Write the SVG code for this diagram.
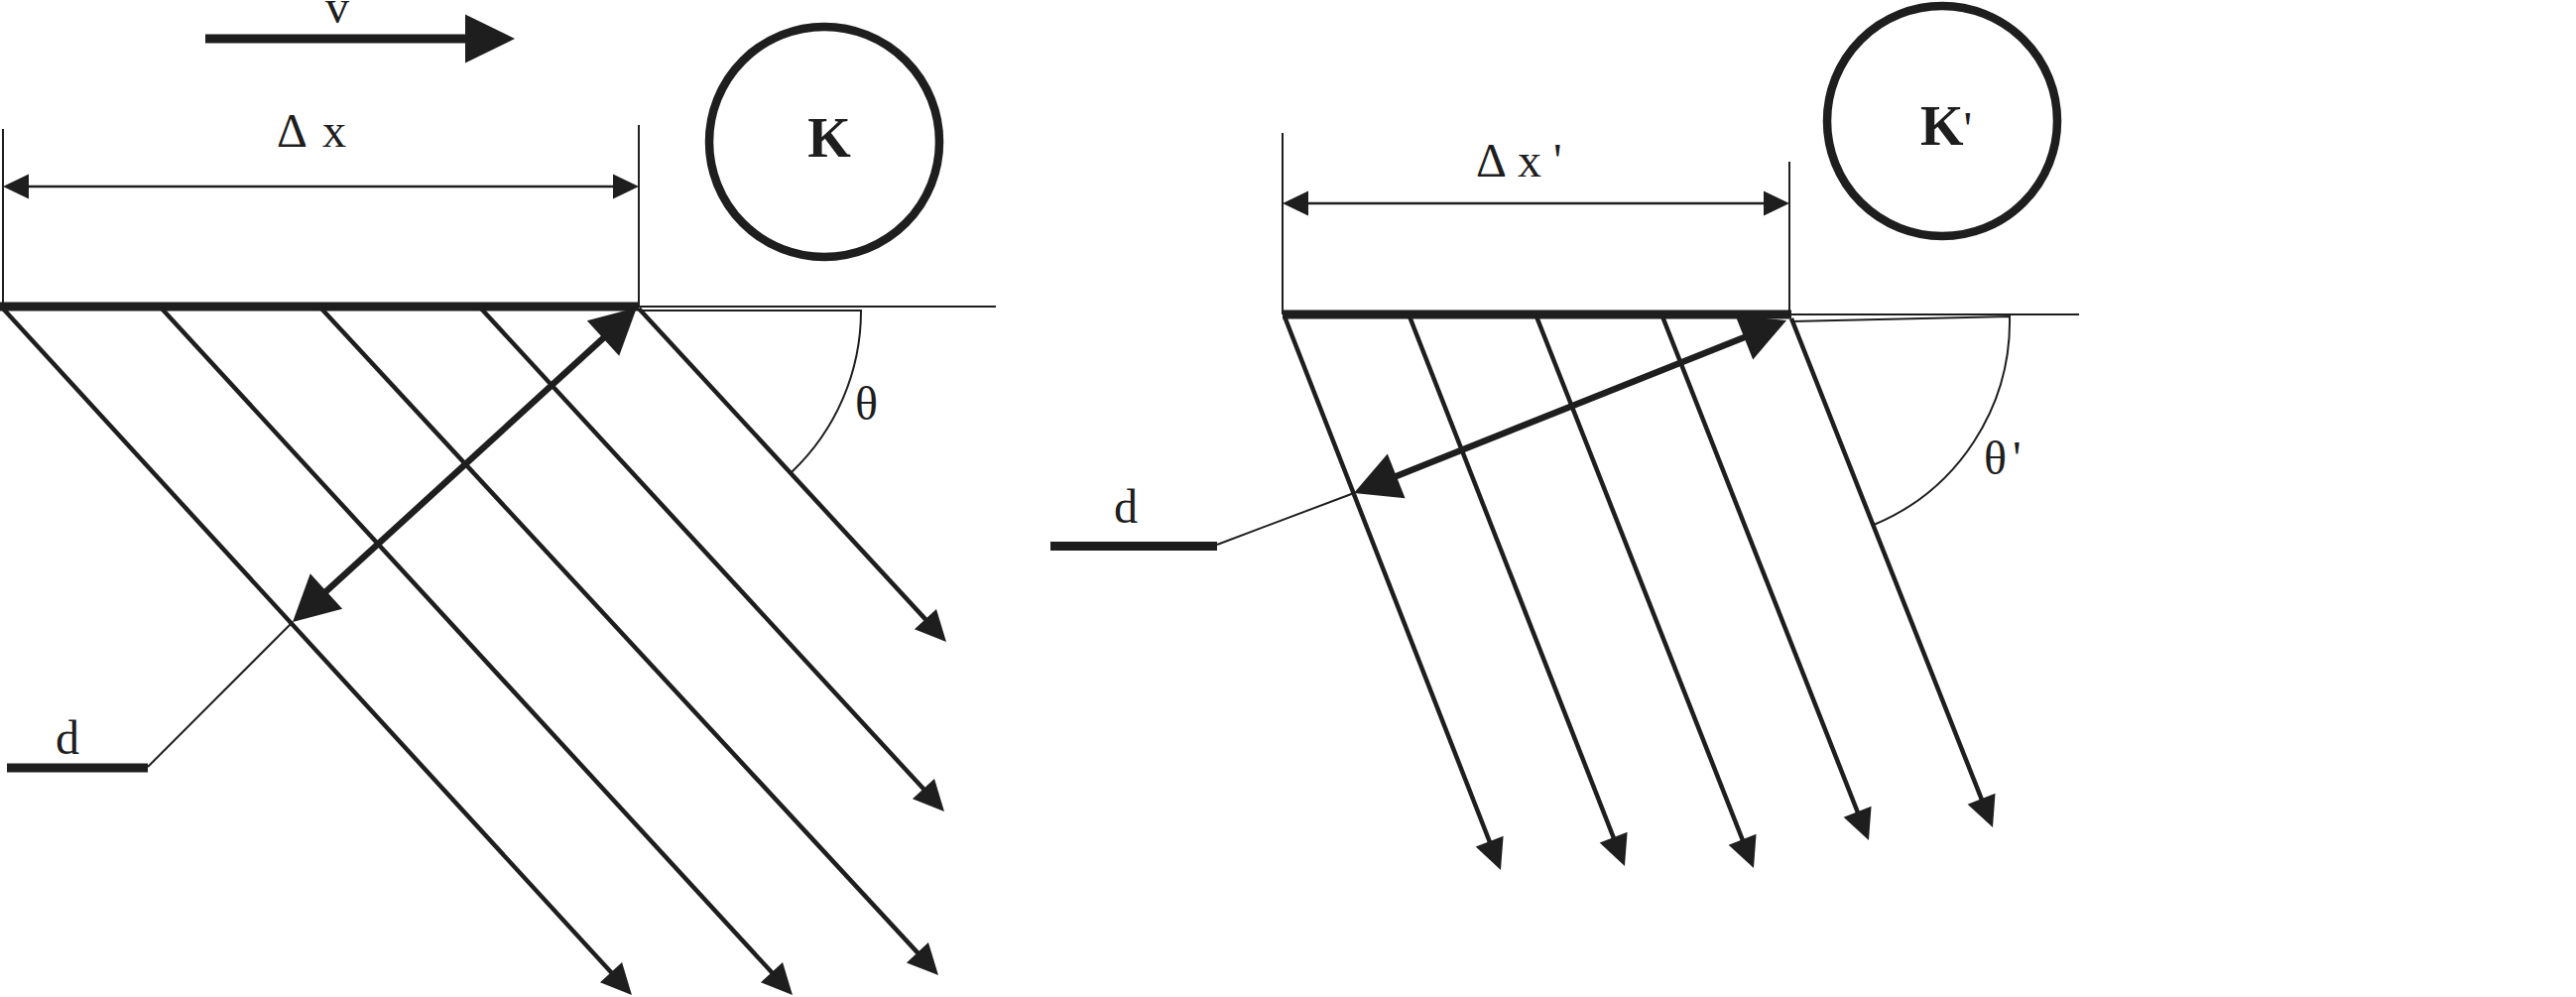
<svg xmlns="http://www.w3.org/2000/svg" width="2597" height="1005" viewBox="0 0 2597 1005">
<style>
.ln{stroke:#1e1e1e;fill:none;stroke-linecap:butt}
.thin{stroke-width:2}
.ray{stroke-width:4.5;marker-end:url(#ah)}
.bar{stroke-width:9}
.dim{stroke-width:2.6;marker-start:url(#ahdim);marker-end:url(#ahdim)}
.darr{stroke-width:6.5;marker-start:url(#ahd);marker-end:url(#ahd)}
.circ{stroke:#1e1e1e;stroke-width:8.5;fill:none}
.t{font-family:"Liberation Serif","Times New Roman",serif;fill:#1e1e1e;font-size:48px}
.b{font-weight:bold;font-size:56px}
</style>
<defs>
<marker id="ah" markerUnits="userSpaceOnUse" orient="auto" refX="21" refY="0" markerWidth="40" markerHeight="40" overflow="visible"><path d="M0,-15 L31,0 L0,15 z" fill="#1e1e1e"/></marker>
<marker id="ahd" markerUnits="userSpaceOnUse" orient="auto-start-reverse" refX="31" refY="0" markerWidth="60" markerHeight="60" overflow="visible"><path d="M0,-24 L46,0 L0,24 z" fill="#1e1e1e"/></marker>
<marker id="ahdim" markerUnits="userSpaceOnUse" orient="auto-start-reverse" refX="20" refY="0" markerWidth="30" markerHeight="30" overflow="visible"><path d="M0,-12.5 L26,0 L0,12.5 z" fill="#1e1e1e"/></marker>
<marker id="ahv" markerUnits="userSpaceOnUse" orient="auto" refX="40" refY="0" markerWidth="60" markerHeight="60" overflow="visible"><path d="M0,-24.5 L50,0 L0,24.5 z" fill="#1e1e1e"/></marker>
</defs>
<rect width="2597" height="1005" fill="#ffffff"/>

<g id="left-frame">
<line class="ln" x1="207" y1="39" x2="509" y2="39" stroke-width="9" marker-end="url(#ahv)"/>
<text class="t" x="340" y="23" text-anchor="middle">v</text>
<line class="ln thin" x1="3" y1="130" x2="3" y2="309"/>
<line class="ln thin" x1="644" y1="126" x2="644" y2="309"/>
<line class="ln dim" x1="9" y1="188" x2="638" y2="188"/>
<text class="t" y="148" font-size="46"><tspan x="279">Δ</tspan><tspan x="325">x</tspan></text>
<line class="ln bar" x1="0" y1="309" x2="644" y2="309" stroke-width="8"/>
<line class="ln thin" x1="644" y1="309" x2="1004" y2="309"/>
<path class="ln thin" d="M644,313 L868,313 A224,224 0 0 1 798,476"/>
<text class="t" x="862" y="423">θ</text>
</g>

<g id="node-K">
<circle class="circ" cx="831" cy="143" r="116"/>
<text class="t b" x="836" y="158" text-anchor="middle">K</text>
</g>

<g id="left-d">
<line class="ln" x1="7" y1="774" x2="149" y2="774" stroke-width="9"/>
<line class="ln thin" x1="149" y1="773" x2="295" y2="627"/>
<text class="t" x="56" y="760">d</text>
</g>

<g id="right-frame">
<line class="ln thin" x1="1293" y1="134" x2="1293" y2="317"/>
<line class="ln thin" x1="1804" y1="163" x2="1804" y2="317"/>
<line class="ln dim" x1="1299" y1="205" x2="1798" y2="205"/>
<text class="t" y="178" font-size="46"><tspan x="1488">Δ</tspan><tspan x="1530">x</tspan><tspan x="1566">'</tspan></text>
<line class="ln bar" x1="1293" y1="317" x2="1806" y2="317"/>
<line class="ln thin" x1="1804" y1="317" x2="2096" y2="317"/>
<path class="ln thin" d="M1806,324 L2026,319 A222,222 0 0 1 1889,529"/>
<text class="t" y="478"><tspan x="2000">θ</tspan><tspan x="2029">'</tspan></text>
</g>

<g id="node-K-prime">
<circle class="circ" cx="1958" cy="122" r="116"/>
<text class="t b" x="1936" y="146">K<tspan font-weight="normal" font-size="48">'</tspan></text>
</g>

<g id="right-d">
<line class="ln" x1="1059" y1="550.5" x2="1227" y2="550.5" stroke-width="9"/>
<line class="ln thin" x1="1227" y1="549" x2="1365" y2="497"/>
<text class="t" x="1123" y="527">d</text>
</g>

<g id="connectors">
<line class="ln ray" x1="3" y1="311" x2="630.2" y2="995.6"/>
<line class="ln ray" x1="163" y1="311" x2="792.2" y2="995.6"/>
<line class="ln ray" x1="324" y1="311" x2="939.2" y2="975.6"/>
<line class="ln ray" x1="485" y1="311" x2="945.2" y2="810.6"/>
<line class="ln ray" x1="644" y1="311" x2="947.2" y2="639.6" stroke-width="5.5"/>
<line class="ln darr" x1="306.1" y1="616.9" x2="630.9" y2="320.1" stroke-width="6"/>
<line class="ln ray" x1="1295" y1="319" x2="1509.3" y2="867.7"/>
<line class="ln ray" x1="1421" y1="319" x2="1634.3" y2="863.7"/>
<line class="ln ray" x1="1549" y1="319" x2="1764.3" y2="865.7"/>
<line class="ln ray" x1="1676" y1="319" x2="1880.3" y2="837.7"/>
<line class="ln ray" x1="1806" y1="321" x2="2005.3" y2="824.7"/>
<line class="ln darr" x1="1378.9" y1="491.4" x2="1787.1" y2="328.6"/>
</g>
</svg>
